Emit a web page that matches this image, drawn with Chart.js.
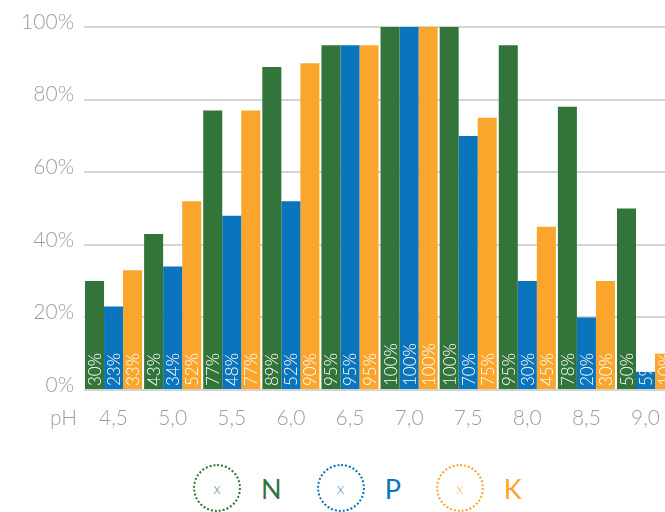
<!DOCTYPE html>
<html>
<head>
<meta charset="utf-8">
<script src="https://cdn.jsdelivr.net/npm/chart.js@4/dist/chart.umd.min.js"></script>
<style>
  html, body { margin: 0; padding: 0; background: #fff; overflow: hidden; }
  #wrap { position: relative; width: 665px; height: 512px; overflow: hidden; }
  #box { position: absolute; left: 0; top: 0; width: 676px; height: 450px; }
  #legend { position: absolute; left: 193px; top: 464px; height: 48px; display: flex; align-items: center; font-family: Lato, sans-serif; }
  .item { display: flex; align-items: center; margin-right: 35px; }
  .dot { width: 44px; height: 44px; border: 2px dotted; border-radius: 50%; display: flex; align-items: center; justify-content: center; font-size: 15px; font-weight: 300; }
  .dot span { opacity: 0.8; }
  .name { margin-left: 20px; font-size: 27px; font-weight: 400; }
</style>
</head>
<body>
<div id="wrap">
  <div id="box"><canvas id="npkChart"></canvas></div>
  <div id="legend"></div>
</div>
<script>
const categories = ["4,5", "5,0", "5,5", "6,0", "6,5", "7,0", "7,5", "8,0", "8,5", "9,0"];
const seriesNames = ["N", "P", "K"];
const nValues = [30, 43, 77, 89, 95, 100, 100, 95, 78, 50];
const pValues = [23, 34, 48, 52, 95, 100, 70, 30, 20, 5];
const kValues = [33, 52, 77, 90, 95, 100, 75, 45, 30, 10];
const yTicks = [0, 20, 40, 60, 80, 100];
const colors = ["#33743a", "#0a75bd", "#faa62c"];

const gray = "#9e9e9e";
const font = "Lato, sans-serif";

// value labels inside the bars plus the "pH" caption
const barLabels = {
  id: "barLabels",
  afterDatasetsDraw(chart) {
    const ctx = chart.ctx;
    ctx.save();
    ctx.font = "300 17px " + font;
    ctx.fillStyle = "#ffffff";
    ctx.textAlign = "left";
    ctx.textBaseline = "middle";
    chart.data.datasets.forEach((ds, i) => {
      chart.getDatasetMeta(i).data.forEach((bar, j) => {
        ctx.save();
        ctx.translate(bar.x + 1, bar.base - 3);
        ctx.rotate(-Math.PI / 2);
        ctx.fillText(ds.data[j] + "%", 0, 0);
        ctx.restore();
      });
    });
    ctx.font = "300 21px " + font;
    ctx.fillStyle = gray;
    ctx.textAlign = "right";
    ctx.textBaseline = "middle";
    ctx.fillText("pH", 77, chart.scales.x.top + 16 + 12);
    ctx.restore();
  }
};

new Chart(document.getElementById("npkChart"), {
  type: "bar",
  data: {
    labels: categories,
    datasets: [nValues, pValues, kValues].map((d, i) => ({
      label: seriesNames[i],
      data: d,
      backgroundColor: colors[i],
      borderWidth: 0,
      barPercentage: 1,
      categoryPercentage: 0.966,
    })),
  },
  options: {
    responsive: true,
    maintainAspectRatio: false,
    animation: false,
    layout: { padding: { top: 27, right: 0, left: 0, bottom: 0 } },
    plugins: {
      legend: { display: false },
      tooltip: { enabled: false },
    },
    scales: {
      x: {
        grid: { display: false, drawTicks: false },
        border: { display: false },
        ticks: { color: gray, padding: 16, font: { family: font, size: 21, weight: 300 } },
        afterFit: (s) => { s.height = 60; },
      },
      y: {
        min: 0,
        max: 100,
        afterBuildTicks: (s) => { s.ticks = yTicks.map((v) => ({ value: v })); },
        grid: { color: "#d4d4d4", lineWidth: 2, drawTicks: false },
        border: { display: false },
        ticks: {
          color: gray,
          padding: 10,
          labelOffset: -5,
          font: { family: font, size: 21, weight: 300 },
          callback: (v) => v + "%",
        },
        afterFit: (s) => { s.width = 84; },
      },
    },
  },
  plugins: [barLabels],
});

const legend = document.getElementById("legend");
seriesNames.forEach((n, i) => {
  const item = document.createElement("div");
  item.className = "item";
  item.innerHTML = '<div class="dot" style="border-color:' + colors[i] + ';color:' + colors[i] + '"><span>x</span></div>' +
    '<div class="name" style="color:' + colors[i] + '">' + n + '</div>';
  legend.appendChild(item);
});
</script>
</body>
</html>
